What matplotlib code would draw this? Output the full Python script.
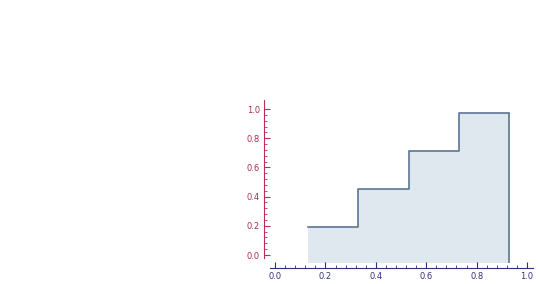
import numpy as np
import matplotlib.pyplot as plt

edges = [0.13, 0.33, 0.53, 0.73, 0.93]
heights = [0.19, 0.45, 0.71, 0.97]
base = -0.057

x_ticks = [0.0, 0.2, 0.4, 0.6, 0.8, 1.0]
y_ticks = [0.0, 0.2, 0.4, 0.6, 0.8, 1.0]

red = '#b8305a'
navy = '#2b2f86'
line_col = '#56708f'
fill_col = '#dfe7ef'


def main():
    fig = plt.figure(figsize=(5.4, 2.84), dpi=100)
    ax = fig.add_axes([0.4813, 0.0507, 0.5087, 0.6014])

    ax.stairs(heights, edges, baseline=base, fill=True, color=fill_col, lw=0)
    y_line = heights + [heights[-1]]
    ax.step(edges, y_line, where='post', color=line_col, lw=1.15)
    ax.vlines(edges[-1], base, heights[-1], color=line_col, lw=1.15)

    ax.set_xlim(-0.06, 1.03)
    ax.set_ylim(-0.1, 1.07)

    for s in ['top', 'right']:
        ax.spines[s].set_visible(False)
    ax.spines['left'].set_position(('data', -0.044))
    ax.spines['left'].set_bounds(-0.02, 1.06)
    ax.spines['left'].set_color(red)
    ax.spines['bottom'].set_position(('data', -0.089))
    ax.spines['bottom'].set_bounds(-0.02, 1.024)
    ax.spines['bottom'].set_color(navy)

    minor = np.round(np.arange(0, 1.0001, 0.04), 2)
    ax.set_xticks(x_ticks)
    ax.set_yticks(y_ticks)
    ax.set_xticks(minor, minor=True)
    ax.set_yticks(minor, minor=True)
    ax.tick_params(axis='x', which='both', direction='in', colors=navy, labelsize=6)
    ax.tick_params(axis='y', which='both', direction='in', colors=red, labelsize=6)
    ax.tick_params(which='major', length=4, width=0.8)
    ax.tick_params(which='minor', length=2, width=0.6)
    ax.tick_params(axis='x', labelcolor='#33337a', pad=3)
    ax.tick_params(axis='y', labelcolor='#a8304d', pad=3)

    fig.savefig('out.png')


if __name__ == '__main__':
    main()
